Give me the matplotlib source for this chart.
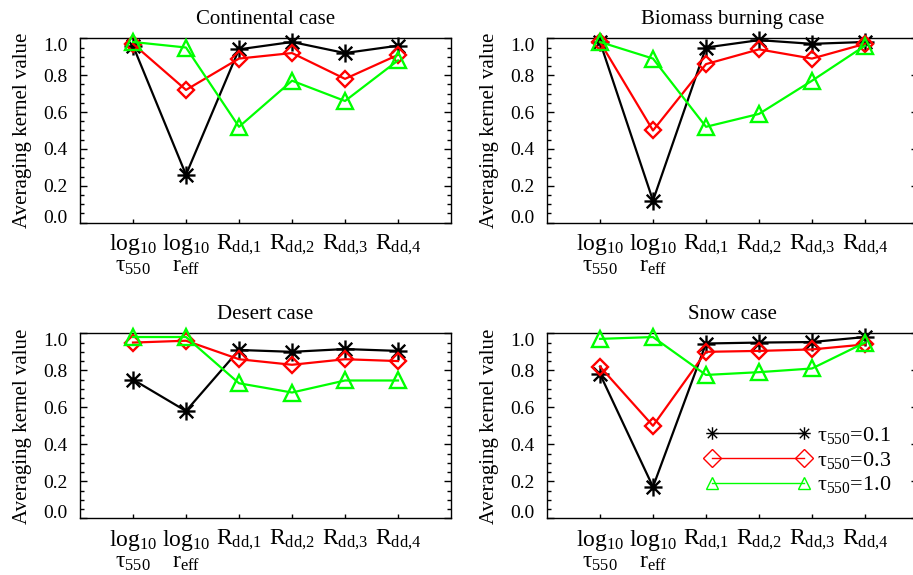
import numpy as np
import matplotlib.pyplot as plt
from matplotlib.path import Path
from matplotlib.lines import Line2D
from matplotlib.ticker import MultipleLocator

plt.rcParams['font.family'] = 'Liberation Serif'
plt.rcParams['mathtext.fontset'] = 'custom'
plt.rcParams['mathtext.rm'] = 'Liberation Serif'
plt.rcParams['mathtext.it'] = 'Liberation Serif:italic'
plt.rcParams['mathtext.bf'] = 'Liberation Serif:bold'

# Retrieved parameters (x axis)
params = ['log$_{10}$\nτ$_{550}$', 'log$_{10}$\nr$_{\\mathrm{eff}}$',
          'R$_{\\mathrm{dd{,}1}}$', 'R$_{\\mathrm{dd{,}2}}$',
          'R$_{\\mathrm{dd{,}3}}$', 'R$_{\\mathrm{dd{,}4}}$']
tau_labels = ['τ$_{550}$=0.1', 'τ$_{550}$=0.3', 'τ$_{550}$=1.0']

# Averaging kernel diagonal values, one list per optical depth
continental_01 = [0.96, 0.26, 0.94, 0.98, 0.92, 0.96]
continental_03 = [0.97, 0.72, 0.89, 0.92, 0.78, 0.91]
continental_10 = [0.98, 0.95, 0.52, 0.77, 0.66, 0.88]

biomass_01 = [0.98, 0.12, 0.95, 0.99, 0.97, 0.98]
biomass_03 = [0.98, 0.50, 0.86, 0.94, 0.89, 0.97]
biomass_10 = [0.98, 0.89, 0.52, 0.59, 0.77, 0.96]

desert_01 = [0.75, 0.58, 0.91, 0.90, 0.915, 0.905]
desert_03 = [0.95, 0.96, 0.86, 0.83, 0.86, 0.85]
desert_10 = [0.98, 0.98, 0.73, 0.68, 0.745, 0.745]

snow_01 = [0.78, 0.17, 0.945, 0.95, 0.953, 0.98]
snow_03 = [0.82, 0.50, 0.90, 0.905, 0.913, 0.94]
snow_10 = [0.97, 0.98, 0.775, 0.79, 0.81, 0.95]

titles = ['Continental case', 'Biomass burning case', 'Desert case', 'Snow case']
cases = [(continental_01, continental_03, continental_10),
         (biomass_01, biomass_03, biomass_10),
         (desert_01, desert_03, desert_10),
         (snow_01, snow_03, snow_10)]

# IDL-like asterisk: + and x on top of each other
star = Path([(-1, 0), (1, 0), (0, -1), (0, 1),
             (-0.75, -0.75), (0.75, 0.75), (-0.75, 0.75), (0.75, -0.75)],
            [Path.MOVETO, Path.LINETO] * 4)
styles = [dict(color='black', marker=star, ms=13),
          dict(color='#ff0000', marker='D', ms=8),
          dict(color='#00ff00', marker='^', ms=11)]

# axes boxes [left, bottom, width, height] in figure fraction
boxes = [[0.0876, 0.6127, 0.4064, 0.3207],
         [0.5991, 0.6127, 0.4064, 0.3207],
         [0.0876, 0.0986, 0.4064, 0.3217],
         [0.5991, 0.0986, 0.4064, 0.3217]]

fig = plt.figure(figsize=(9.13, 5.75), dpi=100)
x = np.arange(1, 7)

for box, title, series in zip(boxes, titles, cases):
    ax = fig.add_axes(box)
    for vals, st in zip(series, styles):
        ax.plot(x, vals, color=st['color'], lw=1.6, marker=st['marker'],
                ms=st['ms'], mfc='none', mew=1.7, clip_on=False, zorder=3)
    ax.set_xlim(0, 7)
    ax.set_ylim(0, 1.0)
    ax.set_xticks(x)
    ax.set_xticklabels(params, fontsize=17, linespacing=0.9)
    ax.set_yticks([0.0, 0.2, 0.4, 0.6, 0.8, 1.0])
    ax.set_yticklabels(['0.0', '0.2', '0.4', '0.6', '0.8', '1.0'], fontsize=14)
    ax.yaxis.set_minor_locator(MultipleLocator(0.05))
    ax.tick_params(axis='y', which='major', direction='in', length=5, width=1,
                   left=True, right=True, pad=9)
    ax.tick_params(axis='y', which='minor', direction='in', length=3, width=1,
                   left=True, right=True)
    ax.tick_params(axis='x', direction='in', length=3, width=1, top=False, pad=7)
    # keep end labels inside the frame like the original
    yt = ax.yaxis.get_major_ticks()
    yt[-1].label1.set_va('top')
    yt[0].label1.set_va('baseline')
    for sp in ax.spines.values():
        sp.set_linewidth(1.0)
    ax.set_ylabel('Averaging kernel value', fontsize=15, labelpad=8)
    ax.set_title(title, fontsize=15, pad=10)

# legend only in the snow panel
handles = [Line2D([], [], color=st['color'], lw=1, marker=st['marker'], ms=9,
                  mfc='none', mew=1) for st in styles]
ax.legend(handles, tau_labels, loc='upper left', bbox_to_anchor=(0.428, 0.503),
          frameon=False, fontsize=16, numpoints=2, handlelength=4.7,
          handletextpad=0.3, labelspacing=0.16, borderpad=0, borderaxespad=0)

plt.savefig('out.png')
